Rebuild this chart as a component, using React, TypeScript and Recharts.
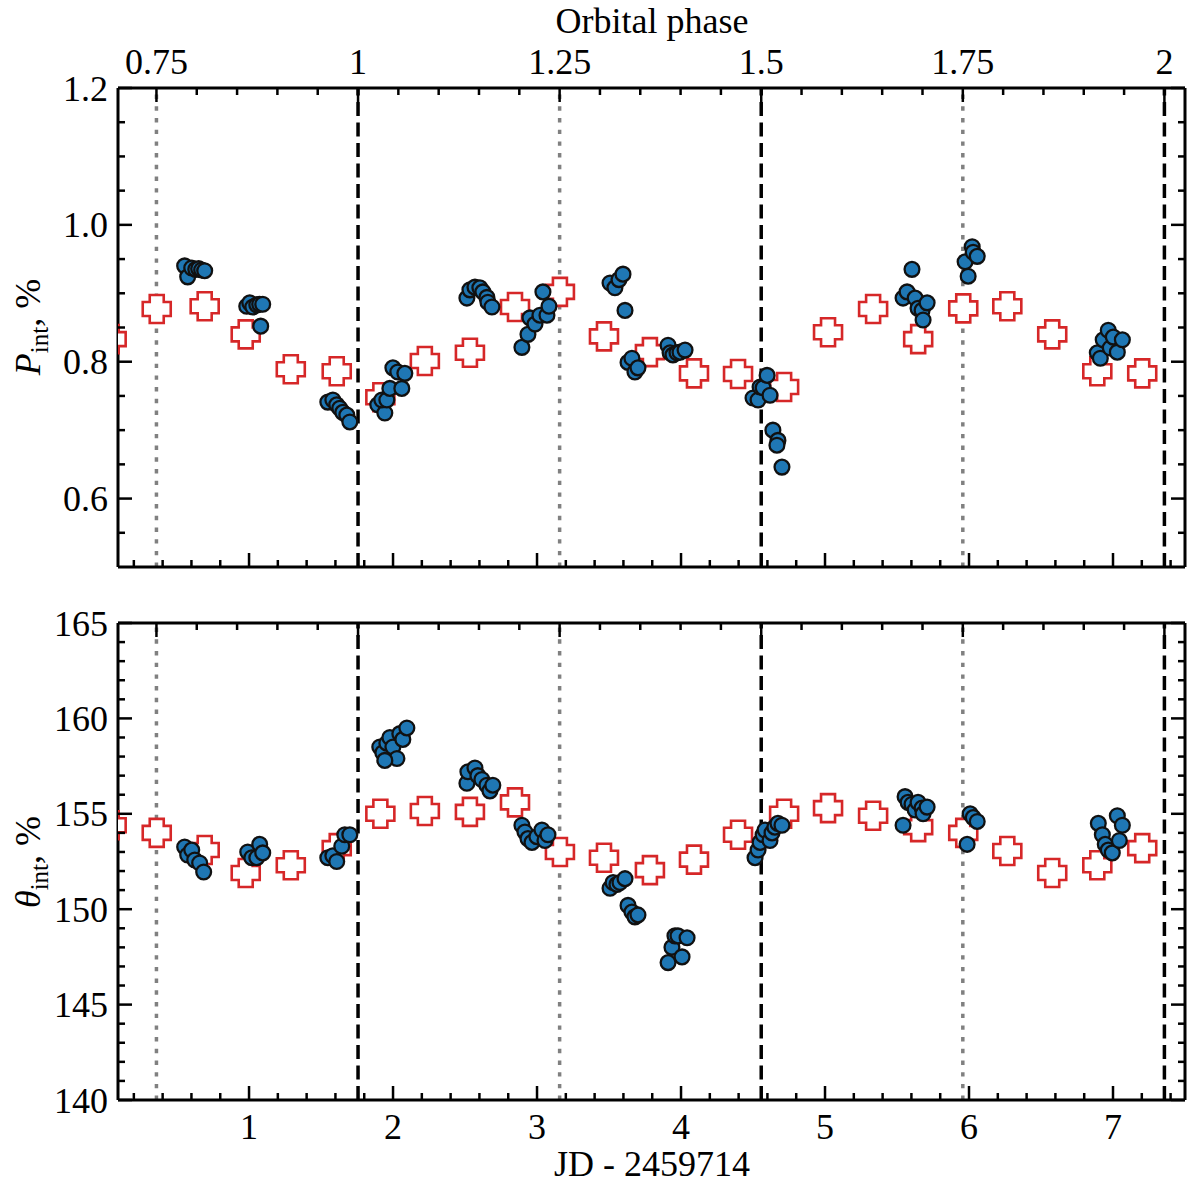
import React from 'react';
import { ScatterChart, Scatter, XAxis, YAxis, ReferenceLine } from 'recharts';

// orbital ephemeris used for the top axis (JD - 2459714 where phase = 1)
const PERIOD = 5.6;
const PHASE_ONE_JD = 1.757;
const phaseToJd = (p: number) => PHASE_ONE_JD + (p - 1) * PERIOD;
const jdToPhase = (jd: number) => Math.round(((jd - PHASE_ONE_JD) / PERIOD + 1) * 100) / 100;

const X_DOMAIN: [number, number] = [0.09, 7.5];

const jdMajorTicks = [1, 2, 3, 4, 5, 6, 7];
const jdMinorTicks = [
  0.2, 0.4, 0.6, 0.8, 1.2, 1.4, 1.6, 1.8, 2.2, 2.4, 2.6, 2.8, 3.2, 3.4, 3.6, 3.8,
  4.2, 4.4, 4.6, 4.8, 5.2, 5.4, 5.6, 5.8, 6.2, 6.4, 6.6, 6.8, 7.2, 7.4,
];
const phaseMajorTicks = [0.75, 1, 1.25, 1.5, 1.75, 2];
const phaseMinorTicks = [
  0.8, 0.85, 0.9, 0.95, 1.05, 1.1, 1.15, 1.2, 1.3, 1.35, 1.4, 1.45,
  1.55, 1.6, 1.65, 1.7, 1.8, 1.85, 1.9, 1.95,
];
const dashedPhases = [1, 1.5, 2];
const dottedPhases = [0.75, 1.25, 1.75];

const pMajorTicks = [0.6, 0.8, 1.0, 1.2];
const pMinorTicks = [0.55, 0.65, 0.7, 0.75, 0.85, 0.9, 0.95, 1.05, 1.1, 1.15];
const thetaMajorTicks = [140, 145, 150, 155, 160, 165];
const thetaMinorTicks = [
  141, 142, 143, 144, 146, 147, 148, 149, 151, 152, 153, 154,
  156, 157, 158, 159, 161, 162, 163, 164,
];

// model (red crosses)
const modelJd = [
  0.046, 0.359, 0.692, 0.977, 1.29, 1.609, 1.912, 2.221, 2.534, 2.847, 3.159, 3.465,
  3.784, 4.09, 4.396, 4.716, 5.021, 5.334, 5.647, 5.96, 6.266, 6.578, 6.891, 7.203,
];
const modelP = [
  0.833, 0.877, 0.881, 0.84, 0.789, 0.786, 0.748, 0.801, 0.813, 0.88, 0.902, 0.837,
  0.814, 0.783, 0.782, 0.763, 0.843, 0.877, 0.833, 0.878, 0.881, 0.84, 0.786, 0.783,
];
const modelTheta = [
  154.4, 154.0, 153.1, 151.9, 152.3, 153.2, 155.0, 155.15, 155.1, 155.6, 153.0, 152.7,
  152.05, 152.6, 153.9, 155.0, 155.3, 154.9, 154.3, 154.0, 153.05, 151.9, 152.3, 153.2,
];

// observations, polarization degree
const obsJdP = [
  0.553, 0.574, 0.602, 0.63, 0.65, 0.671, 0.692,
  0.984, 1.005, 1.026, 1.054, 1.074, 1.095, 1.081,
  1.547, 1.582, 1.609, 1.63, 1.651, 1.679, 1.7,
  1.894, 1.943, 1.922, 1.957, 1.978, 1.999, 2.033, 2.061, 2.082,
  2.513, 2.534, 2.569, 2.603, 2.624, 2.652, 2.659, 2.687,
  2.895, 2.937, 2.951, 2.986, 3.02, 3.069, 3.083, 3.041,
  3.507, 3.541, 3.569, 3.597, 3.611,
  3.632, 3.659, 3.68, 3.701,
  3.91, 3.924, 3.944, 3.972, 3.993, 4.028,
  4.5, 4.535, 4.549, 4.57, 4.598, 4.618, 4.638, 4.673, 4.666, 4.701,
  5.542, 5.57, 5.604, 5.626, 5.646, 5.674, 5.709, 5.681,
  5.973, 5.994, 6.022, 6.029, 6.057,
  6.891, 6.912, 6.932, 6.967, 6.981, 7.002, 7.03, 7.065,
];
const obsP = [
  0.94, 0.924, 0.937, 0.935, 0.936, 0.934, 0.933,
  0.881, 0.886, 0.88, 0.883, 0.884, 0.884, 0.852,
  0.741, 0.744, 0.737, 0.732, 0.726, 0.722, 0.712,
  0.737, 0.725, 0.744, 0.744, 0.761, 0.791, 0.785, 0.761, 0.783,
  0.893, 0.905, 0.909, 0.908, 0.902, 0.894, 0.887, 0.88,
  0.821, 0.84, 0.864, 0.855, 0.868, 0.868, 0.881, 0.902,
  0.915, 0.908, 0.92, 0.928, 0.875,
  0.799, 0.805, 0.785, 0.791,
  0.824, 0.813, 0.81, 0.813, 0.814, 0.817,
  0.747, 0.744, 0.763, 0.762, 0.78, 0.751, 0.7, 0.685, 0.678, 0.646,
  0.893, 0.902, 0.935, 0.893, 0.878, 0.875, 0.886, 0.861,
  0.946, 0.925, 0.968, 0.96, 0.954,
  0.813, 0.805, 0.832, 0.846, 0.82, 0.836, 0.814, 0.832,
];

// observations, polarization angle
const obsJdTheta = [
  0.553, 0.574, 0.602, 0.623, 0.657, 0.685,
  0.991, 1.019, 1.054, 1.074, 1.095,
  1.547, 1.582, 1.609, 1.644, 1.665, 1.7,
  1.908, 1.929, 1.957, 1.978, 1.999, 2.027, 2.047, 2.068, 2.096, 1.943,
  2.513, 2.52, 2.569, 2.589, 2.617, 2.652, 2.673, 2.693,
  2.895, 2.916, 2.937, 2.965, 2.999, 3.034, 3.055, 3.076,
  3.507, 3.528, 3.555, 3.576, 3.611,
  3.632, 3.659, 3.68, 3.701,
  3.91, 3.937, 3.958, 3.979, 4.007, 4.042,
  4.514, 4.535, 4.549, 4.57, 4.584, 4.618, 4.632, 4.652, 4.673, 4.701,
  5.542, 5.556, 5.577, 5.604, 5.626, 5.646, 5.674, 5.681, 5.709,
  5.987, 6.008, 6.029, 6.057,
  6.898, 6.926, 6.946, 6.967, 6.995, 7.03, 7.065, 7.044,
];
const obsTheta = [
  153.26, 152.84, 153.1, 152.58, 152.42, 151.95,
  153.0, 152.7, 152.7, 153.4, 152.95,
  152.7, 152.8, 152.5, 153.3, 153.9, 153.9,
  158.5, 158.2, 158.7, 159.0, 158.5, 157.9, 159.2, 158.9, 159.5, 157.8,
  156.6, 157.2, 157.4, 157.0, 156.8, 156.5, 156.2, 156.5,
  154.4, 154.05, 153.7, 153.5, 153.8, 154.15, 153.6, 153.9,
  151.1, 151.4, 151.3, 151.4, 151.6,
  150.2, 149.85, 149.6, 149.7,
  147.2, 148.0, 148.6, 148.6, 147.5, 148.5,
  152.7, 153.1, 153.5, 153.9, 154.15, 153.6, 154.0, 154.3, 154.5, 154.4,
  154.4, 155.9, 155.6, 155.5, 155.2, 155.6, 155.3, 155.0, 155.35,
  153.4, 155.0, 154.8, 154.6,
  154.5, 153.9, 153.4, 153.1, 152.95, 154.9, 154.4, 153.6,
];

type Pt = { x: number; y: number };
const zip = (xs: number[], ys: number[]): Pt[] => xs.map((x, i) => ({ x, y: ys[i] }));

const FONT = "'Liberation Serif', 'Times New Roman', serif";
const frame = { stroke: '#000', strokeWidth: 3 };
const MAJOR = 14;
const MINOR = 8;

type Side = 'top' | 'bottom' | 'left' | 'right';

// tick drawn inward from the axis position, with an optional label outside
const tickMark = (side: Side, len: number, fmt?: (v: number) => string) => (props: any) => {
  const { x, y, payload } = props;
  const dx = side === 'left' ? len : side === 'right' ? -len : 0;
  const dy = side === 'top' ? len : side === 'bottom' ? -len : 0;
  let label = null;
  if (fmt) {
    const text = fmt(payload.value);
    if (side === 'bottom') {
      label = <text x={x} y={y + 39} textAnchor="middle" fontSize={36} fill="#000">{text}</text>;
    } else if (side === 'top') {
      label = <text x={x} y={y - 14} textAnchor="middle" fontSize={36} fill="#000">{text}</text>;
    } else if (side === 'left') {
      label = <text x={x - 10} y={y + 12.5} textAnchor="end" fontSize={36} fill="#000">{text}</text>;
    }
  }
  return (
    <g>
      <line x1={x} y1={y} x2={x + dx} y2={y + dy} stroke="#000" strokeWidth={2.5} />
      {label}
    </g>
  );
};

const Dot = (props: any) => {
  const { cx, cy } = props;
  if (cx == null || cy == null) return null;
  return <circle cx={cx} cy={cy} r={7.4} fill="#1f77b4" stroke="#111" strokeWidth={2.3} />;
};

const Plus = (props: any) => {
  const { cx, cy } = props;
  if (cx == null || cy == null) return null;
  const a = 7;
  const l = 14;
  const d =
    `M${cx - a},${cy - l}H${cx + a}V${cy - a}H${cx + l}V${cy + a}H${cx + a}V${cy + l}` +
    `H${cx - a}V${cy + a}H${cx - l}V${cy - a}H${cx - a}Z`;
  return <path d={d} fill="#fff" stroke="#d62728" strokeWidth={2.6} />;
};

type PanelProps = {
  top: number;
  height: number;
  margin: { top: number; right: number; bottom: number; left: number };
  yDomain: [number, number];
  yMajor: number[];
  yMinor: number[];
  yFmt: (v: number) => string;
  obs: Pt[];
  model: Pt[];
  phaseLabels: boolean;
  jdLabels: boolean;
};

const fmtPhase = (v: number) => String(jdToPhase(v));
const fmtJd = (v: number) => String(v);

// every axis is 1px thick so the margins fix the plot box
function Panel(p: PanelProps) {
  const common = { type: 'number' as const, allowDataOverflow: true, interval: 0 as const, tickSize: 0, tickMargin: 0, tickLine: false };
  return (
    <div style={{ position: 'absolute', left: 0, top: p.top }}>
      <ScatterChart width={1200} height={p.height} margin={p.margin}>
        <XAxis
          {...common} xAxisId="jd" dataKey="x" domain={X_DOMAIN} ticks={jdMajorTicks} height={1}
          axisLine={frame} tick={tickMark('bottom', MAJOR, p.jdLabels ? fmtJd : undefined)}
        />
        <XAxis
          {...common} xAxisId="jdMinor" dataKey="x" domain={X_DOMAIN} ticks={jdMinorTicks} height={1}
          axisLine={false} tick={tickMark('bottom', MINOR)}
        />
        <XAxis
          {...common} xAxisId="phase" orientation="top" dataKey="x" domain={X_DOMAIN}
          ticks={phaseMajorTicks.map(phaseToJd)} height={1} axisLine={frame}
          tick={tickMark('top', MAJOR, p.phaseLabels ? fmtPhase : undefined)}
        />
        <XAxis
          {...common} xAxisId="phaseMinor" orientation="top" dataKey="x" domain={X_DOMAIN}
          ticks={phaseMinorTicks.map(phaseToJd)} height={1} axisLine={false} tick={tickMark('top', MINOR)}
        />
        <YAxis
          {...common} yAxisId="left" dataKey="y" domain={p.yDomain} ticks={p.yMajor} width={1}
          axisLine={frame} tick={tickMark('left', MAJOR, p.yFmt)}
        />
        <YAxis
          {...common} yAxisId="leftMinor" dataKey="y" domain={p.yDomain} ticks={p.yMinor} width={1}
          axisLine={false} tick={tickMark('left', MINOR)}
        />
        <YAxis
          {...common} yAxisId="right" orientation="right" dataKey="y" domain={p.yDomain} ticks={p.yMajor}
          width={1} axisLine={frame} tick={tickMark('right', MAJOR)}
        />
        <YAxis
          {...common} yAxisId="rightMinor" orientation="right" dataKey="y" domain={p.yDomain} ticks={p.yMinor}
          width={1} axisLine={false} tick={tickMark('right', MINOR)}
        />
        {dottedPhases.map((ph) => (
          <ReferenceLine
            key={`dot${ph}`} xAxisId="jd" yAxisId="left" x={phaseToJd(ph)}
            stroke="#808080" strokeWidth={3.5} strokeDasharray="4.4 7.3"
          />
        ))}
        {dashedPhases.map((ph) => (
          <ReferenceLine
            key={`dash${ph}`} xAxisId="jd" yAxisId="left" x={phaseToJd(ph)}
            stroke="#000" strokeWidth={3.5} strokeDasharray="14 6.5"
          />
        ))}
        <Scatter xAxisId="jd" yAxisId="left" data={p.model} shape={Plus} isAnimationActive={false} />
        <Scatter xAxisId="jd" yAxisId="left" data={p.obs} shape={Dot} isAnimationActive={false} />
      </ScatterChart>
    </div>
  );
}

export default function App() {
  return (
    <div
      style={{
        position: 'absolute', left: 0, top: 0, width: 1200, height: 1186,
        background: '#fff', fontFamily: FONT, color: '#000',
      }}
    >
      <Panel
        top={0} height={600} margin={{ top: 86, right: 13, bottom: 31, left: 116 }}
        yDomain={[0.5, 1.2]} yMajor={pMajorTicks} yMinor={pMinorTicks}
        yFmt={(v) => v.toFixed(1)} obs={zip(obsJdP, obsP)} model={zip(modelJd, modelP)}
        phaseLabels jdLabels={false}
      />
      <Panel
        top={600} height={586} margin={{ top: 21, right: 13, bottom: 84, left: 116 }}
        yDomain={[140, 165]} yMajor={thetaMajorTicks} yMinor={thetaMinorTicks}
        yFmt={(v) => String(v)} obs={zip(obsJdTheta, obsTheta)} model={zip(modelJd, modelTheta)}
        phaseLabels={false} jdLabels
      />
      <div style={{ position: 'absolute', left: 452, width: 400, top: 3, textAlign: 'center', fontSize: 36, lineHeight: '36px' }}>
        Orbital phase
      </div>
      <div style={{ position: 'absolute', left: 452, width: 400, top: 1146, textAlign: 'center', fontSize: 36, lineHeight: '36px' }}>
        JD - 2459714
      </div>
      <div
        style={{
          position: 'absolute', left: 30, top: 327, fontSize: 36, lineHeight: '36px', whiteSpace: 'nowrap',
          transform: 'translate(-50%, -50%) rotate(-90deg)',
        }}
      >
        <i>P</i>
        <span style={{ fontSize: 25, position: 'relative', top: 8 }}>int</span>, %
      </div>
      <div
        style={{
          position: 'absolute', left: 30, top: 862, fontSize: 36, lineHeight: '36px', whiteSpace: 'nowrap',
          transform: 'translate(-50%, -50%) rotate(-90deg)',
        }}
      >
        <i>θ</i>
        <span style={{ fontSize: 25, position: 'relative', top: 8 }}>int</span>, %
      </div>
    </div>
  );
}
